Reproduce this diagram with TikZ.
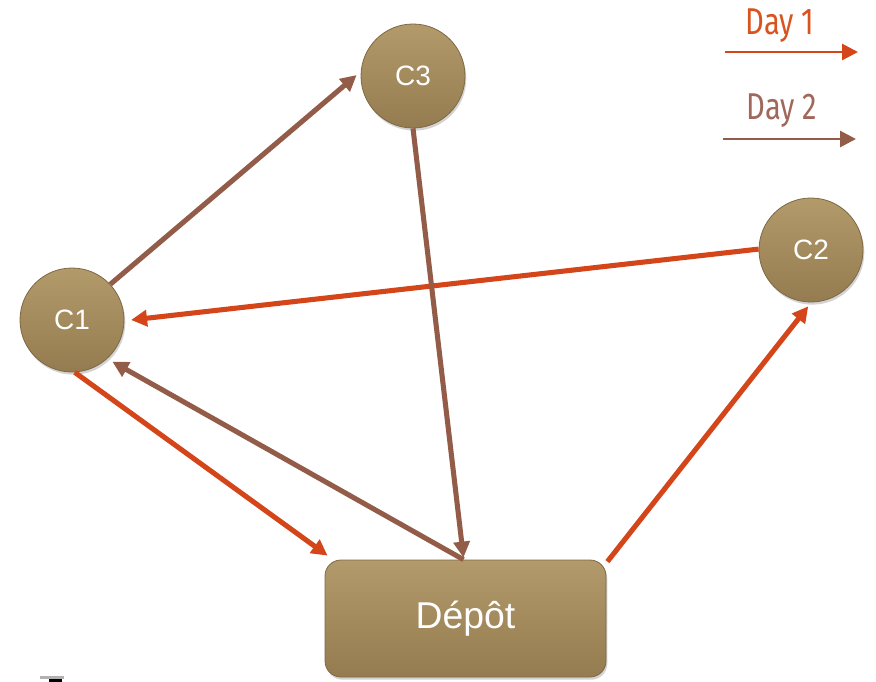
\documentclass[tikz,border=0pt]{standalone}
\usepackage{fontspec}
\setmainfont{Liberation Sans}
\newfontfamily\legendfont{Fira Sans}
\usetikzlibrary{arrows.meta,shadows}
\definecolor{dayone}{HTML}{D4461A}
\definecolor{daytwo}{HTML}{935C48}
\definecolor{dayonetxt}{HTML}{D9531F}
\definecolor{daytwotxt}{HTML}{A0675A}
\definecolor{goldtop}{HTML}{B29A6B}
\definecolor{goldbot}{HTML}{957C50}
\definecolor{goldedge}{HTML}{7E6843}
\tikzset{
  client/.style={circle, minimum size=104*0.75pt, inner sep=0pt,
    top color=goldtop, bottom color=goldbot, draw=goldedge, line width=0.6pt,
    drop shadow={shadow xshift=1pt, shadow yshift=-2pt, opacity=0.35},
    text=white, font=\fontsize{21}{24}\selectfont},
  depotbox/.style={rectangle, rounded corners=12pt, minimum width=281*0.75pt,
    minimum height=117*0.75pt, inner sep=0pt,
    top color=goldtop, bottom color=goldbot, draw=goldedge, line width=0.6pt,
    drop shadow={shadow xshift=1pt, shadow yshift=-2pt, opacity=0.35},
    text=white, font=\fontsize{28}{32}\selectfont},
  arr/.style={line width=3.8pt, -{Triangle[length=12pt,width=12pt]}},
  dayonearrow/.style={arr, draw=dayone, fill=dayone},
  daytwoarrow/.style={arr, draw=daytwo, fill=daytwo},
  legendtxt/.style={inner sep=0pt, font=\legendfont\fontsize{28}{30}\selectfont},
}
\begin{document}
\begin{tikzpicture}[x=0.75pt, y=-0.75pt]
\useasboundingbox (0,0) rectangle (876,682);
% nodes
\node[client] (C3) at (413,76) {C3};
\node[client] (C2) at (811,250) {C2};
\node[client] (C1) at (72,320) {C1};
\node[depotbox] (D) at (465.5,618.5) {Dépôt};
% Day 1 arrows
\draw[dayonearrow] (C1.-87) -- ([shift={(3,-4)}]D.north west);
\draw[dayonearrow] ([shift={(1,2)}]D.north east) -- ([yshift=-3]C2.-93);
\draw[dayonearrow] (C2.179) -- ([xshift=5]C1.0);
% Day 2 arrows
\draw[daytwoarrow] (C1.43) -- ([xshift=-3]C3.179);
\draw[daytwoarrow] (C3.-90) -- ([shift={(-2,-2)}]D.north);
\draw[daytwoarrow] ([shift={(-2,0)}]D.north) -- ([shift={(4,4)}]C1.-46);
% legend
\node[legendtxt, text=dayonetxt] (L1) at (780,26) {\scalebox{0.78}[1]{Day 1}};
\coordinate (L1a) at (725,52);
\coordinate (L1b) at (858,52);
\draw[dayonearrow, line width=2.2pt] (L1a) -- (L1b);
\node[legendtxt, text=daytwotxt] (L2) at (782,111) {\scalebox{0.78}[1]{Day 2}};
\coordinate (L2a) at (723,139);
\coordinate (L2b) at (856,139);
\draw[daytwoarrow, line width=2.2pt] (L2a) -- (L2b);
% small artifact bottom left
\fill[gray!60] (40,676) rectangle (64,679);
\fill[black] (49,679) rectangle (62,682);
\end{tikzpicture}
\end{document}
